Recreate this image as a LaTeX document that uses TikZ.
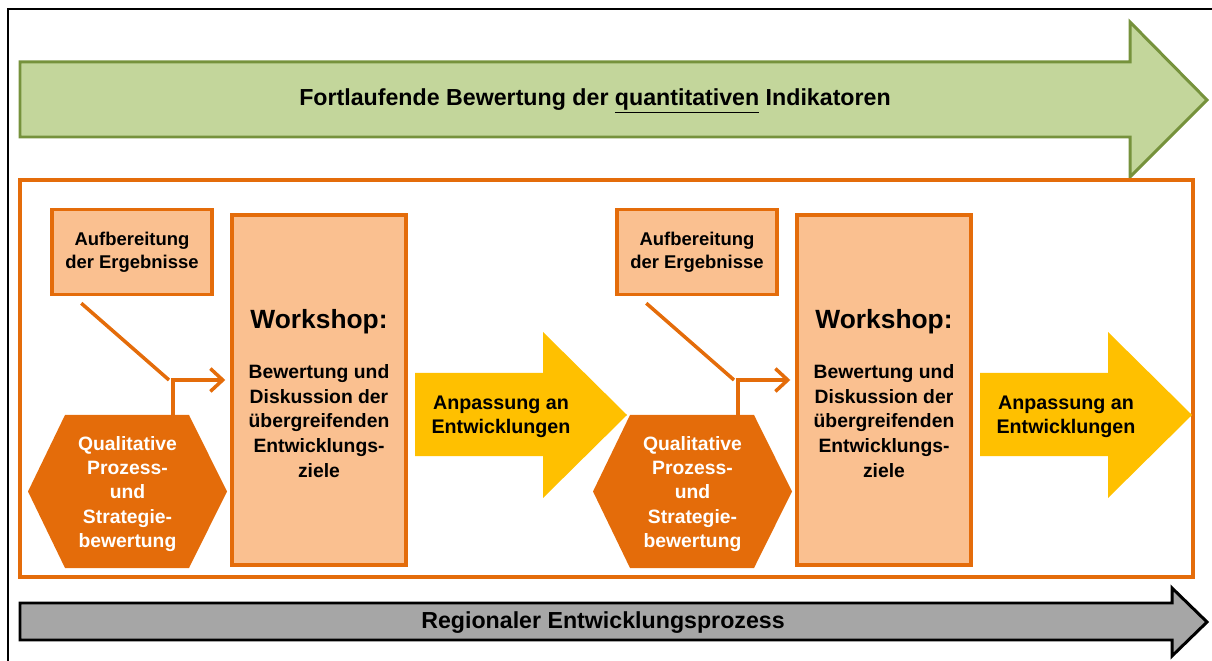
\documentclass[tikz,border=0pt]{standalone}
\usepackage{fontspec}
\setmainfont{Liberation Sans}
\usetikzlibrary{arrows.meta,calc}
\definecolor{greenfill}{HTML}{C3D69B}
\definecolor{greenline}{HTML}{76923C}
\definecolor{orangeline}{HTML}{E46C0A}
\definecolor{orangelight}{HTML}{FAC090}
\definecolor{yellowarrow}{HTML}{FFC000}
\definecolor{grayarrow}{HTML}{A6A6A6}

\begin{document}
\begin{tikzpicture}[
  x=0.02cm, y=-0.02cm,
  prepbox/.style={draw=orangeline, fill=orangelight, line width=2pt,
    minimum width=3.2cm, minimum height=1.7cm, align=center,
    font=\bfseries\fontsize{10.5}{13}\selectfont},
  wsbox/.style={draw=orangeline, fill=orangelight, line width=2pt,
    minimum width=3.48cm, minimum height=7cm},
  wstitle/.style={font=\bfseries\fontsize{15}{18}\selectfont},
  wstext/.style={align=center, font=\bfseries\fontsize{11}{14}\selectfont},
  hextext/.style={align=center, text=white, inner sep=0pt,
    minimum width=3.96cm, minimum height=3.06cm,
    font=\bfseries\fontsize{11}{13.8}\selectfont},
  arrowtext/.style={align=center, font=\bfseries\fontsize{11.2}{13.6}\selectfont},
  bandtext/.style={font=\bfseries\fontsize{13.2}{15}\selectfont},
  link/.style={draw=orangeline, line width=2pt},
  >={Straight Barb[length=7pt,width=13pt]}
]
\useasboundingbox (0,0) rectangle (1212,661);
\draw[line width=1.1pt] (8,661) -- (8,9) -- (1212,9);

% Quantitative band (top)
\draw[greenline, fill=greenfill, line width=1.7pt]
  (20,62) -- (1130,62) -- (1130,22) -- (1207,100) -- (1130,177) -- (1130,137) -- (20,137) -- cycle;
\node[bandtext] (quant) at (595,101)
  {Fortlaufende Bewertung der \underline{quantitativen} Indikatoren};

% Qualitative frame
\draw[orangeline, line width=2pt] (20,180) rectangle (1193,577);

% First cycle
\node[prepbox] (auf1) at (132,252) {Aufbereitung\\der Ergebnisse};
\node[wsbox] (ws1) at (319,390) {};
\node[wstitle] (ws1t) at (319,322) {Workshop:};
\node[wstext] (ws1b) at (319,421)
  {Bewertung und\\Diskussion der\\übergreifenden\\Entwicklungs-\\ziele};
\fill[orangeline] (28,491.5) -- (65,415) -- (189,415) -- (227,491.5) -- (189,568) -- (65,568) -- cycle;
\node[hextext] (hex1) at (127.5,494)
  {Qualitative\\Prozess-\\und\\Strategie-\\bewertung};
\fill[yellowarrow] (415,373) -- (543,373) -- (543,332) -- (627,415) -- (543,498) -- (543,456) -- (415,456) -- cycle;
\node[arrowtext] (anp1) at (501,417) {Anpassung an\\Entwicklungen};
\coordinate (knee1) at (169,380);
\draw[link] ($(auf1.south west)+(31,7)$) -- (knee1);
\draw[link, ->] (173,415) |- ($(ws1.west)+(-5,-10)$);

% Second cycle
\node[prepbox] (auf2) at (697,252) {Aufbereitung\\der Ergebnisse};
\node[wsbox] (ws2) at (884,390) {};
\node[wstitle] (ws2t) at (884,322) {Workshop:};
\node[wstext] (ws2b) at (884,421)
  {Bewertung und\\Diskussion der\\übergreifenden\\Entwicklungs-\\ziele};
\fill[orangeline] (593,491.5) -- (630,415) -- (754,415) -- (792,491.5) -- (754,568) -- (630,568) -- cycle;
\node[hextext] (hex2) at (692.5,494)
  {Qualitative\\Prozess-\\und\\Strategie-\\bewertung};
\fill[yellowarrow] (980,373) -- (1108,373) -- (1108,332) -- (1192,415) -- (1108,498) -- (1108,456) -- (980,456) -- cycle;
\node[arrowtext] (anp2) at (1066,417) {Anpassung an\\Entwicklungen};
\coordinate (knee2) at (734,380);
\draw[link] ($(auf2.south west)+(31,7)$) -- (knee2);
\draw[link, ->] (738,415) |- ($(ws2.west)+(-5,-10)$);

% Regional process band (bottom)
\draw[black, fill=grayarrow, line width=1.7pt]
  (20,603) -- (1172,603) -- (1172,588) -- (1207,622) -- (1172,656) -- (1172,640) -- (20,640) -- cycle;
\node[bandtext] (region) at (603,623) {Regionaler Entwicklungsprozess};

\end{tikzpicture}
\end{document}
